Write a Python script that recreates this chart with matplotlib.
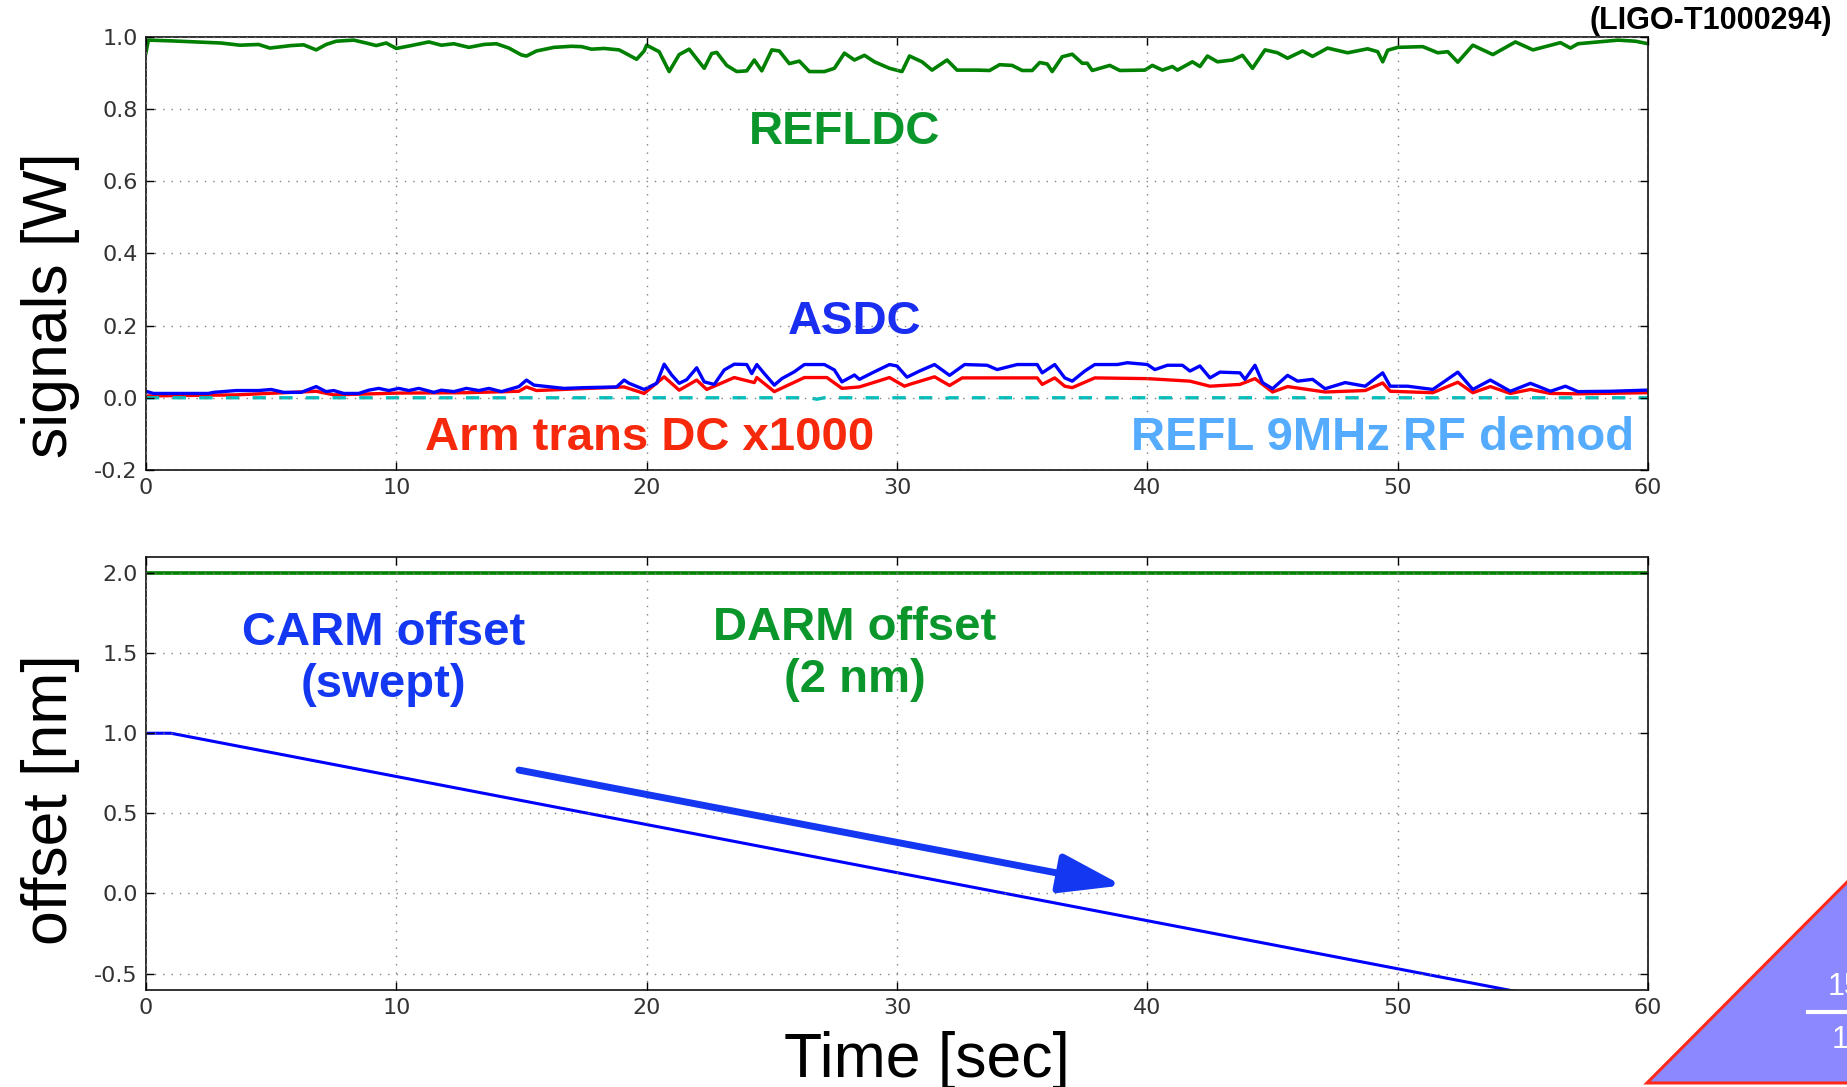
import matplotlib
matplotlib.use("Agg")
import matplotlib.pyplot as plt
from matplotlib.patches import Polygon

# ---- data ----
t_refldc = [0.0, 0.1, 1.0, 2.0, 3.0, 3.76, 4.5, 4.95, 5.8, 6.3, 6.8, 7.2, 7.6, 8.3, 8.8, 9.2, 9.6,
            10.0, 10.6, 11.3, 11.8, 12.3, 12.9, 13.5, 14.0, 14.5, 15.0, 15.2, 15.6, 16.3, 17.0,
            17.4, 17.8, 18.3, 18.9, 19.2, 19.6, 19.9, 20.0, 20.5, 20.9, 21.3, 21.7, 22.3, 22.6,
            22.8, 23.2, 23.6, 24.0, 24.3, 24.6, 25.0, 25.3, 25.7, 26.1, 26.5, 27.1, 27.5, 27.9,
            28.3, 28.7, 29.1, 29.7, 30.2, 30.5, 31.0, 31.4, 32.0, 32.4, 33.2, 33.7, 34.1, 34.6,
            35.0, 35.4, 35.7, 36.0, 36.2, 36.6, 37.0, 37.4, 37.6, 37.8, 38.5, 38.9, 39.9, 40.2,
            40.6, 41.0, 41.2, 41.8, 42.1, 42.4, 42.8, 43.4, 43.8, 44.2, 44.7, 45.2, 45.6, 46.2,
            46.6, 47.2, 48.0, 48.8, 49.2, 49.4, 49.6, 50.0, 51.0, 51.6, 52.0, 52.4, 53.0, 53.8,
            54.7, 55.4, 56.5, 56.9, 57.2, 58.0, 58.8, 59.5, 60.0]
refldc = [0.955, 0.99, 0.988, 0.985, 0.982, 0.976, 0.978, 0.968, 0.975, 0.977, 0.963, 0.978, 0.987,
          0.99, 0.982, 0.975, 0.982, 0.967, 0.975, 0.985, 0.976, 0.98, 0.97, 0.978, 0.98, 0.968,
          0.949, 0.946, 0.96, 0.97, 0.973, 0.972, 0.965, 0.967, 0.963, 0.952, 0.937, 0.96, 0.976,
          0.958, 0.903, 0.95, 0.965, 0.912, 0.953, 0.956, 0.92, 0.903, 0.905, 0.935, 0.905, 0.963,
          0.96, 0.925, 0.932, 0.903, 0.903, 0.912, 0.954, 0.935, 0.948, 0.93, 0.912, 0.903, 0.946,
          0.93, 0.907, 0.935, 0.907, 0.907, 0.906, 0.922, 0.92, 0.906, 0.906, 0.928, 0.924, 0.903,
          0.944, 0.951, 0.926, 0.926, 0.906, 0.92, 0.906, 0.907, 0.92, 0.907, 0.917, 0.907, 0.93,
          0.917, 0.946, 0.93, 0.935, 0.948, 0.912, 0.963, 0.955, 0.94, 0.96, 0.945, 0.968, 0.955,
          0.966, 0.958, 0.93, 0.962, 0.97, 0.972, 0.955, 0.958, 0.929, 0.976, 0.95, 0.985, 0.963,
          0.983, 0.968, 0.98, 0.985, 0.99, 0.987, 0.98]

t_asdc = [0.0, 0.3, 2.5, 2.7, 3.6, 4.5, 5.0, 5.5, 6.2, 6.8, 7.2, 7.5, 7.9, 8.5, 8.9, 9.3, 9.7, 10.1,
          10.5, 10.9, 11.5, 11.8, 12.3, 12.8, 13.3, 13.7, 14.2, 14.5, 14.9, 15.2, 15.5, 16.7, 17.5,
          18.8, 19.1, 19.3, 19.9, 20.4, 20.7, 21.0, 21.3, 21.6, 22.0, 22.3, 22.7, 23.1, 23.5, 24.0,
          24.2, 24.4, 24.7, 25.1, 25.4, 25.9, 26.3, 27.1, 27.5, 27.8, 28.3, 28.5, 29.1, 29.7, 30.0,
          30.4, 30.9, 31.5, 32.1, 32.7, 33.6, 34.0, 34.8, 35.6, 35.8, 36.3, 36.7, 37.0, 37.5, 37.9,
          38.8, 39.2, 40.0, 40.3, 40.8, 41.4, 41.7, 42.1, 42.5, 42.9, 43.7, 43.9, 44.3, 44.6, 45.0,
          45.6, 46.0, 46.6, 47.1, 47.9, 48.7, 49.4, 49.7, 50.4, 51.4, 51.8, 52.4, 53.0, 53.7, 54.5,
          55.3, 56.1, 56.7, 57.2, 58.5, 59.9, 60.0]
asdc = [0.018, 0.012, 0.012, 0.015, 0.02, 0.02, 0.023, 0.015, 0.015, 0.031, 0.017, 0.02, 0.012,
        0.012, 0.021, 0.026, 0.02, 0.026, 0.02, 0.026, 0.015, 0.021, 0.017, 0.026, 0.02, 0.026,
        0.017, 0.023, 0.031, 0.049, 0.035, 0.026, 0.028, 0.03, 0.049, 0.04, 0.023, 0.04, 0.093,
        0.063, 0.04, 0.05, 0.083, 0.044, 0.037, 0.077, 0.093, 0.092, 0.067, 0.092, 0.067, 0.035,
        0.053, 0.072, 0.092, 0.092, 0.077, 0.044, 0.063, 0.051, 0.072, 0.092, 0.088, 0.057, 0.074,
        0.092, 0.062, 0.092, 0.09, 0.078, 0.092, 0.092, 0.069, 0.092, 0.055, 0.046, 0.074, 0.092,
        0.092, 0.097, 0.092, 0.078, 0.09, 0.09, 0.074, 0.088, 0.055, 0.071, 0.069, 0.051, 0.09,
        0.042, 0.025, 0.062, 0.046, 0.051, 0.025, 0.042, 0.032, 0.069, 0.032, 0.032, 0.023, 0.042,
        0.071, 0.023, 0.049, 0.018, 0.04, 0.018, 0.032, 0.017, 0.018, 0.021, 0.021]

t_arm = [0.0, 3.6, 6.8, 7.5, 10.1, 12.8, 14.9, 15.2, 15.6, 19.1, 19.9, 20.7, 21.3, 22.0, 22.4, 23.5,
         24.3, 24.4, 25.1, 26.3, 27.2, 27.8, 28.5, 29.7, 30.3, 30.5, 31.5, 32.1, 32.6, 35.6, 35.8,
         36.3, 36.7, 37.0, 37.9, 40.0, 41.7, 42.5, 43.7, 44.3, 45.0, 45.6, 47.1, 48.7, 49.4, 49.7,
         51.4, 52.4, 53.0, 53.7, 54.5, 55.3, 56.1, 57.2, 60.0]
arm_trans = [0.005, 0.008, 0.018, 0.008, 0.013, 0.014, 0.018, 0.03, 0.02, 0.03, 0.012, 0.058, 0.021,
             0.049, 0.023, 0.056, 0.042, 0.056, 0.017, 0.056, 0.056, 0.026, 0.03, 0.056, 0.032,
             0.037, 0.058, 0.034, 0.055, 0.055, 0.037, 0.055, 0.032, 0.028, 0.055, 0.053, 0.046,
             0.032, 0.037, 0.053, 0.016, 0.031, 0.016, 0.02, 0.041, 0.018, 0.014, 0.043, 0.014,
             0.031, 0.012, 0.023, 0.012, 0.011, 0.014]

t_refl9 = [0.0, 26.5, 26.8, 27.1, 31.5, 31.8, 32.1, 60.0]
refl9 = [0.0, 0.0, -0.004, 0.0, 0.0, -0.004, 0.0, 0.0]

t_carm = [0.0, 1.0, 60.0]
carm = [1.0, 1.0, -0.77]
t_darm = [0.0, 60.0]
darm = [2.0, 2.0]

top_yticks = [-0.2, 0.0, 0.2, 0.4, 0.6, 0.8, 1.0]
bot_yticks = [-0.5, 0.0, 0.5, 1.0, 1.5, 2.0]
xticks = [0, 10, 20, 30, 40, 50, 60]

plt.rcParams['axes.unicode_minus'] = False
plt.rcParams['font.family'] = ['DejaVu Sans']

fig = plt.figure(figsize=(18.47, 10.87), dpi=100)
ax1 = fig.add_axes([0.079, 0.5676, 0.8133, 0.3988])
ax2 = fig.add_axes([0.079, 0.0896, 0.8133, 0.398])

bold = dict(family='Liberation Sans', fontweight='bold', fontsize=34, ha='center', va='center')
label_font = dict(family='Liberation Sans', fontsize=45)

# top panel: signals
ax1.plot(t_refldc, refldc, color='#008000', lw=2.6)
ax1.plot(t_arm, arm_trans, color='#ff0000', lw=2.4)
ax1.plot(t_asdc, asdc, color='#0000ff', lw=2.4)
ax1.plot(t_refl9, refl9, color='#00bfbf', lw=2.4, ls=(0, (4, 4)))
ax1.set_xlim(0, 60)
ax1.set_ylim(-0.2, 1.0)
ax1.set_yticks(top_yticks)
ax1.set_ylabel('signals [W]', **label_font)
ax1.yaxis.set_label_coords(-0.044, 0.38)

ax1.text(27.9, 0.736, 'REFLDC', color='#0b962b', **bold)
ax1.text(28.3, 0.211, 'ASDC', color='#1a2ef2', **bold)
ax1.text(20.1, -0.112, 'Arm trans DC x1000', color='#f7290c', **bold)
ax1.text(49.4, -0.112, 'REFL 9MHz RF demod', color='#55acff', **bold)

# bottom panel: offsets
ax2.plot(t_darm, darm, color='#008000', lw=2.6)
ax2.plot(t_carm, carm, color='#0000ff', lw=2.2)
ax2.set_xlim(0, 60)
ax2.set_ylim(-0.6, 2.1)
ax2.set_yticks(bot_yticks)
ax2.set_ylabel('offset [nm]', **label_font)
ax2.yaxis.set_label_coords(-0.044, 0.44)
ax2.set_xlabel('Time [sec]', **label_font)
ax2.xaxis.set_label_coords(0.52, -0.165)
ax2.xaxis.label.set_va('center')

ax2.text(9.5, 1.463, 'CARM offset\n(swept)', color='#1437f2', linespacing=1.25, **bold)
ax2.text(28.3, 1.496, 'DARM offset\n(2 nm)', color='#0b962b', linespacing=1.25, **bold)
ax2.annotate('', xy=(39.0, 0.05), xytext=(14.9, 0.77),
             arrowprops=dict(arrowstyle='-|>,head_length=1.9,head_width=0.6', lw=5,
                             color='#1437f2', mutation_scale=20, capstyle='round',
                             shrinkA=0, shrinkB=0))

for ax in (ax1, ax2):
    ax.set_xticks(xticks)
    ax.set_axisbelow(False)
    ax.grid(True, color='0.5', lw=1, ls=(0, (1, 5)))
    ax.tick_params(direction='in', top=True, right=True, length=6, width=1,
                   labelsize=16, labelcolor='#333333', pad=6)
    for s in ax.spines.values():
        s.set_color('#222222')
        s.set_linewidth(1.3)

fig.text(0.992, 0.981, '(LIGO-T1000294)', ha='right', va='center', family='Liberation Sans',
         fontweight='bold', fontsize=22, color='black')

# cut-off slide decoration at the bottom-right corner
tri = Polygon([(0.8917, 0.0037), (1.083, 0.330), (1.083, 0.0037)], closed=True,
              transform=fig.transFigure, facecolor='#8c88ff', edgecolor='#ff2a1a', lw=2.2)
fig.patches.append(tri)
fig.text(0.9893, 0.092, '15', color='white', family='Liberation Sans', fontsize=22,
         ha='left', va='center')
fig.text(0.9915, 0.043, '1', color='white', family='Liberation Sans', fontsize=22,
         ha='left', va='center')
fig.add_artist(plt.Line2D([0.979, 1.0], [0.069, 0.069], transform=fig.transFigure,
                          color='white', lw=3))

fig.savefig('out.png', dpi=100)
